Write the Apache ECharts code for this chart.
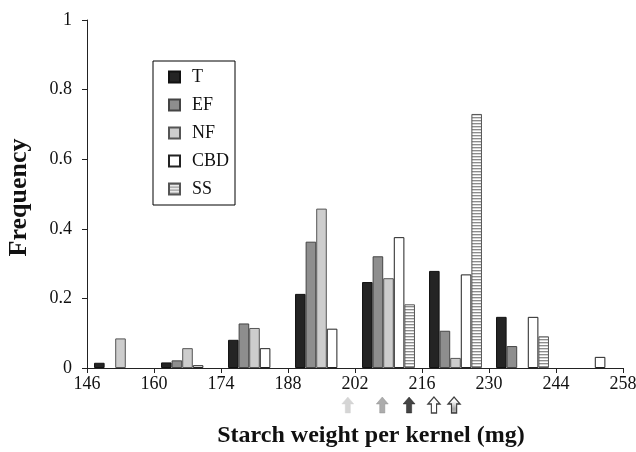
<!DOCTYPE html>
<html>
<head>
<meta charset="utf-8">
<script src="https://cdn.jsdelivr.net/npm/echarts@6/dist/echarts.min.js"></script>
<style>
html,body{margin:0;padding:0;background:#fff;}
#chart{width:636px;height:452px;}
</style>
</head>
<body>
<div id="chart"></div>
<script>
// ---- data ----
var xTickLabels = [146, 160, 174, 188, 202, 216, 230, 244, 258];
var seriesNames = ['T', 'EF', 'NF', 'CBD', 'SS'];
var valuesT   = [0.015, 0.016, 0.081, 0.213, 0.247, 0.279, 0.147, 0];
var valuesEF  = [0,     0.022, 0.128, 0.363, 0.321, 0.107, 0.063, 0];
var valuesNF  = [0.085, 0.057, 0.115, 0.458, 0.258, 0.029, 0,     0];
var valuesCBD = [0,     0.008, 0.057, 0.113, 0.376, 0.269, 0.147, 0.032];
var valuesSS  = [0,     0,     0,     0,     0.183, 0.730, 0.091, 0];
var yTicks = [0, 0.2, 0.4, 0.6, 0.8, 1];
// mean-position arrows
var arrowNames = ['NF', 'EF', 'T', 'CBD', 'SS'];
var arrowPositions = [200.5, 207.7, 213.3, 218.5, 222.7];

// ---- styles ----
var FONT = '"Liberation Serif", "Times New Roman", serif';
function stripeCanvas() {
  var c = document.createElement('canvas');
  c.width = 4; c.height = 3;
  var ctx = c.getContext('2d');
  ctx.fillStyle = '#ffffff'; ctx.fillRect(0, 0, 4, 3);
  ctx.fillStyle = '#8c8c8c'; ctx.fillRect(0, 0, 4, 1);
  ctx.fillStyle = '#d6d6d6'; ctx.fillRect(0, 1, 4, 1);
  return c;
}
var stripe = { image: stripeCanvas(), repeat: 'repeat' };
var styles = {
  T:   { color: '#242424', borderColor: '#111', borderWidth: 1 },
  EF:  { color: '#8e8e8e', borderColor: '#444', borderWidth: 1 },
  NF:  { color: '#cdcdcd', borderColor: '#555', borderWidth: 1 },
  CBD: { color: '#ffffff', borderColor: '#222', borderWidth: 1 },
  SS:  { color: stripe,    borderColor: '#555', borderWidth: 1 }
};
var arrowStyles = {
  NF:  { color: '#cbcbcb', borderColor: '#d5d5d5', borderWidth: 0.5 },
  EF:  { color: '#979797', borderColor: '#8a8a8a', borderWidth: 0.5 },
  T:   { color: '#151515', borderColor: '#111', borderWidth: 0.5 },
  CBD: { color: '#ffffff', borderColor: '#111', borderWidth: 1.3 },
  SS:  { color: stripe,    borderColor: '#111', borderWidth: 1.3 }
};
var allValues = [valuesT, valuesEF, valuesNF, valuesCBD, valuesSS];
var binCenters = [];
for (var i = 0; i < xTickLabels.length - 1; i++) binCenters.push((xTickLabels[i] + xTickLabels[i + 1]) / 2);

var series = seriesNames.map(function (name, s) {
  return {
    name: name,
    type: 'bar',
    xAxisIndex: 0, yAxisIndex: 0,
    barGap: '0%',
    barCategoryGap: '21%',
    itemStyle: styles[name],
    emphasis: { disabled: true },
    data: allValues[s].map(function (v, k) { return [binCenters[k], v === 0 ? '-' : v]; })
  };
});
series.push({
  type: 'scatter',
  xAxisIndex: 1, yAxisIndex: 1,
  symbol: 'path://M6,0L12,7L8.6,7L8.6,16L3.4,16L3.4,7L0,7Z',
  symbolSize: [12, 16],
  silent: true,
  data: arrowPositions.map(function (p, k) {
    return { value: [p, 0.5], itemStyle: arrowStyles[arrowNames[k]] };
  })
});

var chart = echarts.init(document.getElementById('chart'), null, { renderer: 'canvas' });
chart.setOption({
  animation: false,
  backgroundColor: '#fff',
  textStyle: { fontFamily: FONT },
  legend: {
    data: seriesNames,
    orient: 'vertical',
    left: 153, top: 61,
    padding: [7, 6, 7, 15],
    borderColor: '#000', borderWidth: 1,
    icon: 'rect',
    itemWidth: 11, itemHeight: 11, itemGap: 10,
    textStyle: { fontFamily: FONT, fontSize: 18, color: '#111', padding: [0, 0, 0, 7] }
  },
  grid: [
    { left: 87, right: 13, top: 20, bottom: 84, containLabel: false, outerBoundsMode: 'none' },
    { left: 87, right: 13, top: 397, height: 16, containLabel: false, outerBoundsMode: 'none' }
  ],
  xAxis: [
    {
      type: 'value', gridIndex: 0,
      min: xTickLabels[0], max: xTickLabels[xTickLabels.length - 1],
      interval: xTickLabels[1] - xTickLabels[0],
      splitLine: { show: false },
      axisLine: { show: true, lineStyle: { color: '#222', width: 1 } },
      axisTick: { show: true, length: 5, lineStyle: { color: '#222' } },
      axisLabel: { fontFamily: FONT, fontSize: 18, color: '#111', margin: 7 },
      name: 'Starch weight per kernel (mg)',
      nameLocation: 'middle', nameGap: 56,
      nameTextStyle: { fontFamily: FONT, fontSize: 24, fontWeight: 'bold', color: '#111', padding: [0, 0, 0, 32] }
    },
    {
      type: 'value', gridIndex: 1,
      min: xTickLabels[0], max: xTickLabels[xTickLabels.length - 1],
      show: false
    }
  ],
  yAxis: [
    {
      type: 'value', gridIndex: 0,
      min: yTicks[0], max: yTicks[yTicks.length - 1], interval: yTicks[1] - yTicks[0],
      splitLine: { show: false },
      axisLine: { show: true, lineStyle: { color: '#222', width: 1 } },
      axisTick: { show: true, length: 5, lineStyle: { color: '#222' } },
      axisLabel: { fontFamily: FONT, fontSize: 18, color: '#111', margin: 15 },
      name: 'Frequency',
      nameLocation: 'middle', nameGap: 55, nameRotate: 90,
      nameTextStyle: { fontFamily: FONT, fontSize: 26, fontWeight: 'bold', color: '#111', padding: [0, 7, 0, 0] }
    },
    { type: 'value', gridIndex: 1, min: 0, max: 1, show: false }
  ],
  series: series
});
</script>
</body>
</html>
